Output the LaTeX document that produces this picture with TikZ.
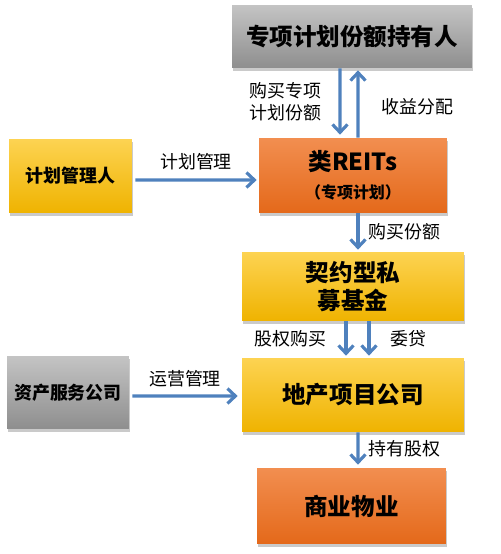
\documentclass[tikz,border=0pt]{standalone}
\usepackage{fontspec}
\setmainfont{Noto Sans CJK SC}
\usetikzlibrary{arrows.meta,shadows}
\definecolor{flowblue}{HTML}{4F81BD}
\definecolor{graytop}{HTML}{C4C4C4}
\definecolor{graybot}{HTML}{8E8E8E}
\definecolor{yellowtop}{HTML}{FDD352}
\definecolor{yellowbot}{HTML}{EFB300}
\definecolor{orangetop}{HTML}{F28E50}
\definecolor{orangebot}{HTML}{E4691A}
\begin{document}
\begin{tikzpicture}[x=0.02cm, y=-0.02cm,
    box/.style={draw=none, align=center, inner sep=0pt, font=\bfseries\fontsize{13.4}{15.9}\selectfont,
      drop shadow={shadow xshift=0.5pt, shadow yshift=-1.5pt, opacity=0.35, fill=black!60}},
    graybox/.style={box, top color=graytop, bottom color=graybot},
    yellowbox/.style={box, top color=yellowtop, bottom color=yellowbot},
    orangebox/.style={box, top color=orangetop, bottom color=orangebot},
    flow/.style={draw=flowblue, line width=1.8pt, -{Straight Barb[length=4.5pt, width=8.5pt, line width=1.8pt]}},
    lbl/.style={inner sep=0pt, align=center, font=\fontsize{10.2}{12.5}\selectfont}]
    \useasboundingbox (0,0) rectangle (500,554);

    \node[graybox, minimum width=4.8cm, minimum height=1.26cm] (holder) at (352,36.5) {专项计划份额持有人};
    \node[yellowbox, minimum width=2.46cm, minimum height=1.48cm, font=\bfseries\fontsize{10.2}{12}\selectfont] (manager) at (70.5,176) {计划管理人};
    \node[orangebox, minimum width=3.76cm, minimum height=1.5cm] (reits) at (353,175.5)
      {\fontsize{13.4}{14.2}\selectfont 类REITs\\ \fontsize{9.1}{10}\selectfont （专项计划）};
    \node[yellowbox, minimum width=4.44cm, minimum height=1.38cm] (fund) at (353,286.5) {契约型私\\募基金};
    \node[graybox, minimum width=2.44cm, minimum height=1.46cm, font=\bfseries\fontsize{10.2}{12}\selectfont] (service) at (68,392.5) {资产服务公司};
    \node[yellowbox, minimum width=4.44cm, minimum height=1.48cm] (project) at (353,395) {地产项目公司};
    \node[orangebox, minimum width=3.78cm, minimum height=1.52cm] (property) at (351.5,506) {商业物业};

    \draw[flow] ([xshift=-0.24cm]holder.south) -- node[lbl, left=0.34cm] {购买专项\\计划份额} ([xshift=-0.26cm, yshift=0.06cm]reits.north);
    \draw[flow] ([xshift=0.1cm]reits.north) -- node[lbl, right=0.44cm, yshift=-0.06cm] {收益分配} ([xshift=0.12cm, yshift=-0.04cm]holder.south);
    \draw[flow] ([xshift=0.06cm, yshift=-0.08cm]manager.east) -- node[lbl, above=0.16cm] {计划管理} ([xshift=-0.04cm, yshift=-0.09cm]reits.west);
    \draw[flow] ([xshift=0.1cm]reits.south) -- node[lbl, right=0.18cm] {购买份额} ([xshift=0.1cm, yshift=0.04cm]fund.north);
    \draw[flow] ([xshift=-0.14cm]fund.south) -- node[lbl, left=0.36cm] {股权购买} ([xshift=-0.14cm, yshift=0.04cm]project.north);
    \draw[flow] ([xshift=0.32cm]fund.south) -- node[lbl, right=0.4cm] {委贷} ([xshift=0.32cm, yshift=0.04cm]project.north);
    \draw[flow] ([xshift=0.06cm, yshift=-0.07cm]service.east) -- node[lbl, above=0.14cm] {运营管理} ([xshift=-0.08cm, yshift=-0.02cm]project.west);
    \draw[flow] ([xshift=0.1cm]project.south) -- node[lbl, right=0.18cm] {持有股权} ([xshift=0.13cm, yshift=0.06cm]property.north);
\end{tikzpicture}
\end{document}
